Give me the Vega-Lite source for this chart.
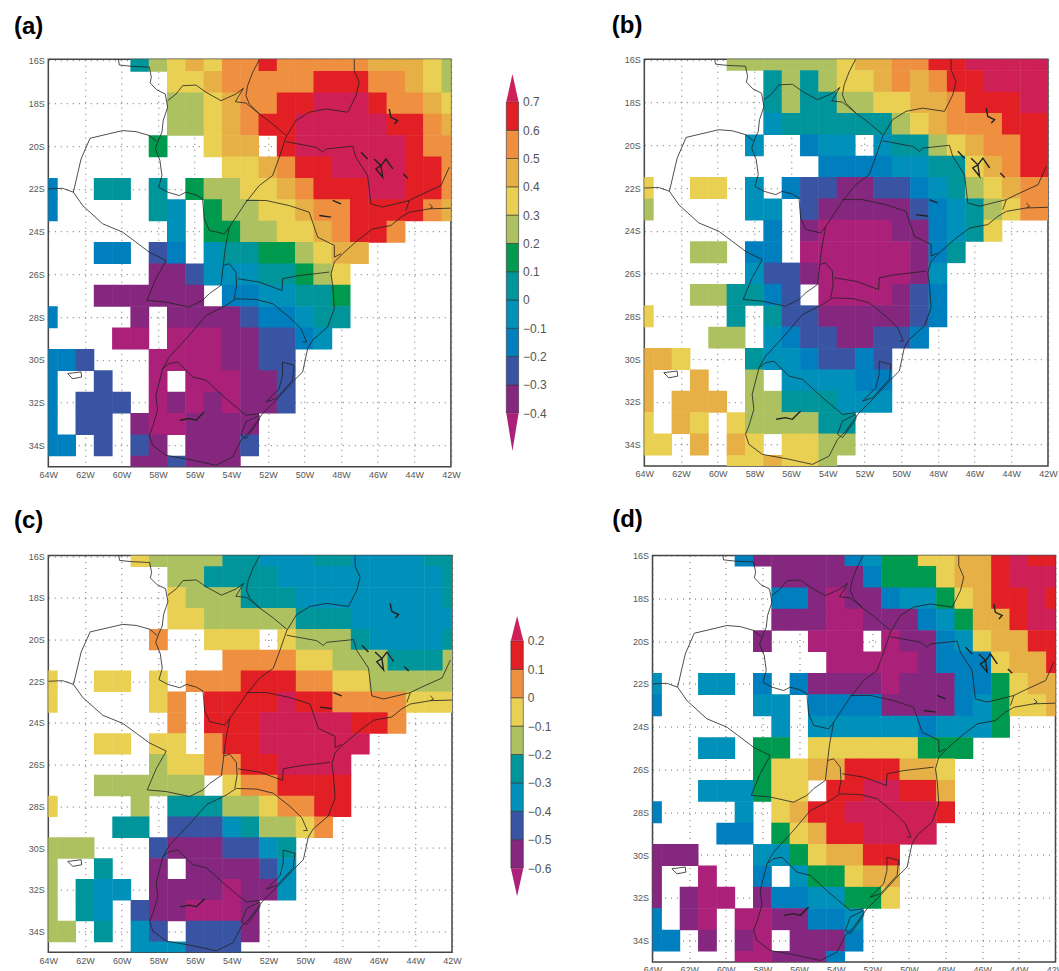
{"$schema":"https://vega.github.io/schema/vega-lite/v6.json","padding":{"left":12.3,"top":12.2,"right":0,"bottom":0},"background":"white","config":{"view":{"stroke":"#444","strokeWidth":1.5},"axis":{"labelFont":"Liberation Sans","labelColor":"#555","labelFontSize":9,"title":null,"domain":false,"ticks":false,"grid":true,"gridDash":[1,5],"gridColor":"#666","gridWidth":1,"labelPadding":4,"zindex":1,"labelOverlap":false,"labelFlush":false},"title":{"font":"Liberation Sans","fontSize":24,"fontWeight":"bold","color":"black","anchor":"start","frame":"group"}},
"datasets":{
"a":[{"x":59,"y":16,"v":0.05},{"x":58,"y":16,"v":0.25},{"x":57,"y":16,"v":0.35},{"x":56,"y":16,"v":0.45},{"x":55,"y":16,"v":0.35},{"x":54,"y":16,"v":0.55},{"x":53,"y":16,"v":0.55},{"x":52,"y":16,"v":0.65},{"x":51,"y":16,"v":0.55},{"x":50,"y":16,"v":0.55},{"x":49,"y":16,"v":0.55},{"x":48,"y":16,"v":0.55},{"x":47,"y":16,"v":0.55},{"x":46,"y":16,"v":0.45},{"x":45,"y":16,"v":0.45},{"x":44,"y":16,"v":0.45},{"x":43,"y":16,"v":0.35},{"x":42,"y":16,"v":0.25},
{"x":57,"y":17,"v":0.35},{"x":56,"y":17,"v":0.35},{"x":55,"y":17,"v":0.45},{"x":54,"y":17,"v":0.55},{"x":53,"y":17,"v":0.55},{"x":52,"y":17,"v":0.55},{"x":51,"y":17,"v":0.55},{"x":50,"y":17,"v":0.55},{"x":49,"y":17,"v":0.65},{"x":48,"y":17,"v":0.65},{"x":47,"y":17,"v":0.65},{"x":46,"y":17,"v":0.55},{"x":45,"y":17,"v":0.55},{"x":44,"y":17,"v":0.45},{"x":43,"y":17,"v":0.35},{"x":42,"y":17,"v":0.25},
{"x":57,"y":18,"v":0.25},{"x":56,"y":18,"v":0.25},{"x":55,"y":18,"v":0.35},{"x":54,"y":18,"v":0.45},{"x":53,"y":18,"v":0.55},{"x":52,"y":18,"v":0.55},{"x":51,"y":18,"v":0.65},{"x":50,"y":18,"v":0.65},{"x":49,"y":18,"v":0.75},{"x":48,"y":18,"v":0.75},{"x":47,"y":18,"v":0.75},{"x":46,"y":18,"v":0.65},{"x":45,"y":18,"v":0.55},{"x":44,"y":18,"v":0.55},{"x":43,"y":18,"v":0.45},{"x":42,"y":18,"v":0.35},
{"x":57,"y":19,"v":0.25},{"x":56,"y":19,"v":0.25},{"x":55,"y":19,"v":0.35},{"x":54,"y":19,"v":0.45},{"x":53,"y":19,"v":0.55},{"x":52,"y":19,"v":0.65},{"x":51,"y":19,"v":0.65},{"x":50,"y":19,"v":0.75},{"x":49,"y":19,"v":0.75},{"x":48,"y":19,"v":0.75},{"x":47,"y":19,"v":0.75},{"x":46,"y":19,"v":0.75},{"x":45,"y":19,"v":0.65},{"x":44,"y":19,"v":0.65},{"x":43,"y":19,"v":0.55},{"x":42,"y":19,"v":0.45},
{"x":58,"y":20,"v":0.15},{"x":55,"y":20,"v":0.35},{"x":54,"y":20,"v":0.45},{"x":53,"y":20,"v":0.45},{"x":51,"y":20,"v":0.65},{"x":50,"y":20,"v":0.75},{"x":49,"y":20,"v":0.75},{"x":48,"y":20,"v":0.75},{"x":47,"y":20,"v":0.75},{"x":46,"y":20,"v":0.75},{"x":45,"y":20,"v":0.75},{"x":44,"y":20,"v":0.65},{"x":43,"y":20,"v":0.55},{"x":42,"y":20,"v":0.55},
{"x":54,"y":21,"v":0.35},{"x":53,"y":21,"v":0.35},{"x":52,"y":21,"v":0.45},{"x":51,"y":21,"v":0.55},{"x":50,"y":21,"v":0.65},{"x":49,"y":21,"v":0.65},{"x":48,"y":21,"v":0.75},{"x":47,"y":21,"v":0.75},{"x":46,"y":21,"v":0.75},{"x":45,"y":21,"v":0.75},{"x":44,"y":21,"v":0.65},{"x":43,"y":21,"v":0.65},{"x":42,"y":21,"v":0.55},
{"x":64,"y":22,"v":-0.15},{"x":61,"y":22,"v":0.05},{"x":60,"y":22,"v":0.05},{"x":58,"y":22,"v":0.05},{"x":56,"y":22,"v":0.15},{"x":55,"y":22,"v":0.25},{"x":54,"y":22,"v":0.25},{"x":53,"y":22,"v":0.35},{"x":52,"y":22,"v":0.35},{"x":51,"y":22,"v":0.45},{"x":50,"y":22,"v":0.55},{"x":49,"y":22,"v":0.65},{"x":48,"y":22,"v":0.65},{"x":47,"y":22,"v":0.65},{"x":46,"y":22,"v":0.75},{"x":45,"y":22,"v":0.75},{"x":44,"y":22,"v":0.65},{"x":43,"y":22,"v":0.65},{"x":42,"y":22,"v":0.55},
{"x":64,"y":23,"v":-0.15},{"x":58,"y":23,"v":0.05},{"x":57,"y":23,"v":-0.05},{"x":55,"y":23,"v":0.15},{"x":54,"y":23,"v":0.25},{"x":53,"y":23,"v":0.25},{"x":52,"y":23,"v":0.35},{"x":51,"y":23,"v":0.35},{"x":50,"y":23,"v":0.45},{"x":49,"y":23,"v":0.55},{"x":48,"y":23,"v":0.55},{"x":47,"y":23,"v":0.65},{"x":46,"y":23,"v":0.65},{"x":45,"y":23,"v":0.65},{"x":44,"y":23,"v":0.65},{"x":43,"y":23,"v":0.55},{"x":42,"y":23,"v":0.45},
{"x":57,"y":24,"v":-0.05},{"x":55,"y":24,"v":0.15},{"x":54,"y":24,"v":0.15},{"x":53,"y":24,"v":0.25},{"x":52,"y":24,"v":0.25},{"x":51,"y":24,"v":0.35},{"x":50,"y":24,"v":0.35},{"x":49,"y":24,"v":0.45},{"x":48,"y":24,"v":0.55},{"x":47,"y":24,"v":0.65},{"x":46,"y":24,"v":0.65},{"x":45,"y":24,"v":0.55},
{"x":61,"y":25,"v":-0.15},{"x":60,"y":25,"v":-0.15},{"x":58,"y":25,"v":-0.25},{"x":57,"y":25,"v":-0.15},{"x":55,"y":25,"v":-0.05},{"x":54,"y":25,"v":0.05},{"x":53,"y":25,"v":0.05},{"x":52,"y":25,"v":0.15},{"x":51,"y":25,"v":0.15},{"x":50,"y":25,"v":0.25},{"x":49,"y":25,"v":0.35},{"x":48,"y":25,"v":0.45},{"x":47,"y":25,"v":0.45},
{"x":58,"y":26,"v":-0.35},{"x":57,"y":26,"v":-0.35},{"x":56,"y":26,"v":-0.25},{"x":55,"y":26,"v":-0.05},{"x":54,"y":26,"v":-0.05},{"x":53,"y":26,"v":-0.05},{"x":52,"y":26,"v":0.05},{"x":51,"y":26,"v":0.05},{"x":50,"y":26,"v":0.15},{"x":49,"y":26,"v":0.25},{"x":48,"y":26,"v":0.35},
{"x":61,"y":27,"v":-0.35},{"x":60,"y":27,"v":-0.35},{"x":59,"y":27,"v":-0.35},{"x":58,"y":27,"v":-0.35},{"x":57,"y":27,"v":-0.35},{"x":56,"y":27,"v":-0.35},{"x":54,"y":27,"v":-0.15},{"x":53,"y":27,"v":-0.15},{"x":52,"y":27,"v":-0.05},{"x":51,"y":27,"v":-0.05},{"x":50,"y":27,"v":0.05},{"x":49,"y":27,"v":0.05},{"x":48,"y":27,"v":0.15},
{"x":64,"y":28,"v":-0.15},{"x":59,"y":28,"v":-0.35},{"x":57,"y":28,"v":-0.35},{"x":56,"y":28,"v":-0.35},{"x":55,"y":28,"v":-0.35},{"x":54,"y":28,"v":-0.35},{"x":53,"y":28,"v":-0.25},{"x":52,"y":28,"v":-0.15},{"x":51,"y":28,"v":-0.15},{"x":50,"y":28,"v":-0.05},{"x":49,"y":28,"v":0.05},{"x":48,"y":28,"v":0.05},
{"x":60,"y":29,"v":-0.45},{"x":59,"y":29,"v":-0.45},{"x":57,"y":29,"v":-0.45},{"x":56,"y":29,"v":-0.45},{"x":55,"y":29,"v":-0.45},{"x":54,"y":29,"v":-0.35},{"x":53,"y":29,"v":-0.35},{"x":52,"y":29,"v":-0.25},{"x":51,"y":29,"v":-0.25},{"x":50,"y":29,"v":-0.15},{"x":49,"y":29,"v":-0.05},
{"x":64,"y":30,"v":-0.15},{"x":63,"y":30,"v":-0.15},{"x":62,"y":30,"v":-0.25},{"x":58,"y":30,"v":-0.45},{"x":57,"y":30,"v":-0.45},{"x":56,"y":30,"v":-0.45},{"x":55,"y":30,"v":-0.45},{"x":54,"y":30,"v":-0.35},{"x":53,"y":30,"v":-0.35},{"x":52,"y":30,"v":-0.25},{"x":51,"y":30,"v":-0.25},
{"x":64,"y":31,"v":-0.15},{"x":61,"y":31,"v":-0.25},{"x":58,"y":31,"v":-0.45},{"x":56,"y":31,"v":-0.45},{"x":55,"y":31,"v":-0.45},{"x":54,"y":31,"v":-0.45},{"x":53,"y":31,"v":-0.35},{"x":52,"y":31,"v":-0.35},{"x":51,"y":31,"v":-0.25},
{"x":64,"y":32,"v":-0.15},{"x":62,"y":32,"v":-0.25},{"x":61,"y":32,"v":-0.25},{"x":60,"y":32,"v":-0.25},{"x":58,"y":32,"v":-0.45},{"x":57,"y":32,"v":-0.35},{"x":56,"y":32,"v":-0.45},{"x":55,"y":32,"v":-0.35},{"x":54,"y":32,"v":-0.45},{"x":53,"y":32,"v":-0.35},{"x":52,"y":32,"v":-0.35},{"x":51,"y":32,"v":-0.25},
{"x":64,"y":33,"v":-0.15},{"x":62,"y":33,"v":-0.25},{"x":61,"y":33,"v":-0.25},{"x":59,"y":33,"v":-0.35},{"x":58,"y":33,"v":-0.45},{"x":57,"y":33,"v":-0.45},{"x":56,"y":33,"v":-0.35},{"x":55,"y":33,"v":-0.35},{"x":54,"y":33,"v":-0.35},{"x":53,"y":33,"v":-0.35},
{"x":64,"y":34,"v":-0.15},{"x":63,"y":34,"v":-0.15},{"x":61,"y":34,"v":-0.25},{"x":59,"y":34,"v":-0.25},{"x":58,"y":34,"v":-0.35},{"x":56,"y":34,"v":-0.35},{"x":55,"y":34,"v":-0.35},{"x":54,"y":34,"v":-0.35},{"x":53,"y":34,"v":-0.25},
{"x":59,"y":35,"v":-0.35},{"x":58,"y":35,"v":-0.35},{"x":57,"y":35,"v":-0.25},{"x":56,"y":35,"v":-0.35},{"x":55,"y":35,"v":-0.35},{"x":54,"y":35,"v":-0.35}],
"b":[{"x":59,"y":16,"v":0.25},{"x":58,"y":16,"v":0.25},{"x":57,"y":16,"v":0.25},{"x":56,"y":16,"v":0.25},{"x":55,"y":16,"v":0.25},{"x":54,"y":16,"v":0.25},{"x":53,"y":16,"v":0.35},{"x":52,"y":16,"v":0.45},{"x":51,"y":16,"v":0.45},{"x":50,"y":16,"v":0.55},{"x":49,"y":16,"v":0.55},{"x":48,"y":16,"v":0.65},{"x":47,"y":16,"v":0.65},{"x":46,"y":16,"v":0.75},{"x":45,"y":16,"v":0.75},{"x":44,"y":16,"v":0.75},{"x":43,"y":16,"v":0.75},{"x":42,"y":16,"v":0.75},
{"x":57,"y":17,"v":0.05},{"x":56,"y":17,"v":0.25},{"x":55,"y":17,"v":0.05},{"x":54,"y":17,"v":0.25},{"x":53,"y":17,"v":0.35},{"x":52,"y":17,"v":0.35},{"x":51,"y":17,"v":0.45},{"x":50,"y":17,"v":0.55},{"x":49,"y":17,"v":0.45},{"x":48,"y":17,"v":0.55},{"x":47,"y":17,"v":0.65},{"x":46,"y":17,"v":0.65},{"x":45,"y":17,"v":0.75},{"x":44,"y":17,"v":0.75},{"x":43,"y":17,"v":0.75},{"x":42,"y":17,"v":0.75},
{"x":57,"y":18,"v":0.05},{"x":56,"y":18,"v":0.25},{"x":55,"y":18,"v":0.05},{"x":54,"y":18,"v":0.05},{"x":53,"y":18,"v":0.25},{"x":52,"y":18,"v":0.25},{"x":51,"y":18,"v":0.35},{"x":50,"y":18,"v":0.35},{"x":49,"y":18,"v":0.45},{"x":48,"y":18,"v":0.45},{"x":47,"y":18,"v":0.55},{"x":46,"y":18,"v":0.65},{"x":45,"y":18,"v":0.65},{"x":44,"y":18,"v":0.65},{"x":43,"y":18,"v":0.75},{"x":42,"y":18,"v":0.75},
{"x":57,"y":19,"v":-0.05},{"x":56,"y":19,"v":0.05},{"x":55,"y":19,"v":0.05},{"x":54,"y":19,"v":0.05},{"x":53,"y":19,"v":0.05},{"x":52,"y":19,"v":0.05},{"x":51,"y":19,"v":0.05},{"x":50,"y":19,"v":0.25},{"x":49,"y":19,"v":0.35},{"x":48,"y":19,"v":0.45},{"x":47,"y":19,"v":0.55},{"x":46,"y":19,"v":0.55},{"x":45,"y":19,"v":0.55},{"x":44,"y":19,"v":0.65},{"x":43,"y":19,"v":0.65},{"x":42,"y":19,"v":0.65},
{"x":58,"y":20,"v":-0.05},{"x":55,"y":20,"v":-0.15},{"x":54,"y":20,"v":-0.05},{"x":53,"y":20,"v":-0.05},{"x":51,"y":20,"v":-0.05},{"x":50,"y":20,"v":0.05},{"x":49,"y":20,"v":0.05},{"x":48,"y":20,"v":0.25},{"x":47,"y":20,"v":0.35},{"x":46,"y":20,"v":0.45},{"x":45,"y":20,"v":0.55},{"x":44,"y":20,"v":0.55},{"x":43,"y":20,"v":0.65},{"x":42,"y":20,"v":0.65},
{"x":54,"y":21,"v":-0.15},{"x":53,"y":21,"v":-0.15},{"x":52,"y":21,"v":-0.15},{"x":51,"y":21,"v":-0.15},{"x":50,"y":21,"v":-0.05},{"x":49,"y":21,"v":-0.05},{"x":48,"y":21,"v":0.05},{"x":47,"y":21,"v":0.05},{"x":46,"y":21,"v":0.35},{"x":45,"y":21,"v":0.45},{"x":44,"y":21,"v":0.55},{"x":43,"y":21,"v":0.65},{"x":42,"y":21,"v":0.65},
{"x":64,"y":22,"v":0.35},{"x":61,"y":22,"v":0.35},{"x":60,"y":22,"v":0.35},{"x":58,"y":22,"v":-0.05},{"x":56,"y":22,"v":-0.15},{"x":55,"y":22,"v":-0.25},{"x":54,"y":22,"v":-0.25},{"x":53,"y":22,"v":-0.35},{"x":52,"y":22,"v":-0.35},{"x":51,"y":22,"v":-0.25},{"x":50,"y":22,"v":-0.25},{"x":49,"y":22,"v":-0.15},{"x":48,"y":22,"v":-0.05},{"x":47,"y":22,"v":0.05},{"x":46,"y":22,"v":0.25},{"x":45,"y":22,"v":0.35},{"x":44,"y":22,"v":0.45},{"x":43,"y":22,"v":0.55},{"x":42,"y":22,"v":0.55},
{"x":64,"y":23,"v":0.25},{"x":58,"y":23,"v":-0.05},{"x":57,"y":23,"v":-0.05},{"x":55,"y":23,"v":-0.25},{"x":54,"y":23,"v":-0.35},{"x":53,"y":23,"v":-0.35},{"x":52,"y":23,"v":-0.35},{"x":51,"y":23,"v":-0.35},{"x":50,"y":23,"v":-0.35},{"x":49,"y":23,"v":-0.25},{"x":48,"y":23,"v":-0.15},{"x":47,"y":23,"v":-0.05},{"x":46,"y":23,"v":0.05},{"x":45,"y":23,"v":0.25},{"x":44,"y":23,"v":0.35},{"x":43,"y":23,"v":0.55},{"x":42,"y":23,"v":0.55},
{"x":57,"y":24,"v":-0.15},{"x":55,"y":24,"v":-0.35},{"x":54,"y":24,"v":-0.45},{"x":53,"y":24,"v":-0.45},{"x":52,"y":24,"v":-0.45},{"x":51,"y":24,"v":-0.45},{"x":50,"y":24,"v":-0.35},{"x":49,"y":24,"v":-0.35},{"x":48,"y":24,"v":-0.15},{"x":47,"y":24,"v":-0.05},{"x":46,"y":24,"v":0.05},{"x":45,"y":24,"v":0.35},
{"x":61,"y":25,"v":0.25},{"x":60,"y":25,"v":0.25},{"x":58,"y":25,"v":-0.15},{"x":57,"y":25,"v":-0.15},{"x":55,"y":25,"v":-0.45},{"x":54,"y":25,"v":-0.45},{"x":53,"y":25,"v":-0.45},{"x":52,"y":25,"v":-0.45},{"x":51,"y":25,"v":-0.45},{"x":50,"y":25,"v":-0.45},{"x":49,"y":25,"v":-0.35},{"x":48,"y":25,"v":-0.15},{"x":47,"y":25,"v":0.05},
{"x":58,"y":26,"v":-0.05},{"x":57,"y":26,"v":-0.25},{"x":56,"y":26,"v":-0.25},{"x":55,"y":26,"v":-0.35},{"x":54,"y":26,"v":-0.45},{"x":53,"y":26,"v":-0.45},{"x":52,"y":26,"v":-0.45},{"x":51,"y":26,"v":-0.45},{"x":50,"y":26,"v":-0.45},{"x":49,"y":26,"v":-0.35},{"x":48,"y":26,"v":-0.05},
{"x":61,"y":27,"v":0.25},{"x":60,"y":27,"v":0.25},{"x":59,"y":27,"v":0.05},{"x":58,"y":27,"v":0.05},{"x":57,"y":27,"v":-0.15},{"x":56,"y":27,"v":-0.25},{"x":54,"y":27,"v":-0.45},{"x":53,"y":27,"v":-0.45},{"x":52,"y":27,"v":-0.45},{"x":51,"y":27,"v":-0.45},{"x":50,"y":27,"v":-0.35},{"x":49,"y":27,"v":-0.25},{"x":48,"y":27,"v":-0.15},
{"x":64,"y":28,"v":0.35},{"x":59,"y":28,"v":0.05},{"x":57,"y":28,"v":0.05},{"x":56,"y":28,"v":-0.25},{"x":55,"y":28,"v":-0.25},{"x":54,"y":28,"v":-0.35},{"x":53,"y":28,"v":-0.35},{"x":52,"y":28,"v":-0.35},{"x":51,"y":28,"v":-0.35},{"x":50,"y":28,"v":-0.35},{"x":49,"y":28,"v":-0.25},{"x":48,"y":28,"v":-0.15},
{"x":60,"y":29,"v":0.25},{"x":59,"y":29,"v":0.25},{"x":57,"y":29,"v":-0.05},{"x":56,"y":29,"v":-0.15},{"x":55,"y":29,"v":-0.25},{"x":54,"y":29,"v":-0.25},{"x":53,"y":29,"v":-0.35},{"x":52,"y":29,"v":-0.35},{"x":51,"y":29,"v":-0.25},{"x":50,"y":29,"v":-0.25},{"x":49,"y":29,"v":-0.15},
{"x":64,"y":30,"v":0.45},{"x":63,"y":30,"v":0.45},{"x":62,"y":30,"v":0.35},{"x":58,"y":30,"v":0.05},{"x":57,"y":30,"v":-0.05},{"x":56,"y":30,"v":-0.05},{"x":55,"y":30,"v":-0.15},{"x":54,"y":30,"v":-0.25},{"x":53,"y":30,"v":-0.25},{"x":52,"y":30,"v":-0.15},{"x":51,"y":30,"v":-0.25},
{"x":64,"y":31,"v":0.45},{"x":61,"y":31,"v":0.45},{"x":58,"y":31,"v":0.25},{"x":56,"y":31,"v":-0.05},{"x":55,"y":31,"v":-0.05},{"x":54,"y":31,"v":-0.05},{"x":53,"y":31,"v":-0.05},{"x":52,"y":31,"v":-0.15},{"x":51,"y":31,"v":-0.15},
{"x":64,"y":32,"v":0.45},{"x":62,"y":32,"v":0.45},{"x":61,"y":32,"v":0.45},{"x":60,"y":32,"v":0.45},{"x":58,"y":32,"v":0.25},{"x":57,"y":32,"v":0.25},{"x":56,"y":32,"v":0.05},{"x":55,"y":32,"v":0.05},{"x":54,"y":32,"v":0.05},{"x":53,"y":32,"v":-0.05},{"x":52,"y":32,"v":-0.05},{"x":51,"y":32,"v":-0.05},
{"x":64,"y":33,"v":0.35},{"x":62,"y":33,"v":0.45},{"x":61,"y":33,"v":0.35},{"x":59,"y":33,"v":0.35},{"x":58,"y":33,"v":0.25},{"x":57,"y":33,"v":0.25},{"x":56,"y":33,"v":0.25},{"x":55,"y":33,"v":0.25},{"x":54,"y":33,"v":0.05},{"x":53,"y":33,"v":0.05},
{"x":64,"y":34,"v":0.35},{"x":63,"y":34,"v":0.35},{"x":61,"y":34,"v":0.45},{"x":59,"y":34,"v":0.45},{"x":58,"y":34,"v":0.35},{"x":56,"y":34,"v":0.35},{"x":55,"y":34,"v":0.35},{"x":54,"y":34,"v":0.25},{"x":53,"y":34,"v":0.25},
{"x":59,"y":35,"v":0.35},{"x":58,"y":35,"v":0.35},{"x":57,"y":35,"v":0.45},{"x":56,"y":35,"v":0.35},{"x":55,"y":35,"v":0.35},{"x":54,"y":35,"v":0.25}],
"c":[{"x":59,"y":16,"v":-0.05},{"x":58,"y":16,"v":-0.15},{"x":57,"y":16,"v":-0.15},{"x":56,"y":16,"v":-0.15},{"x":55,"y":16,"v":-0.15},{"x":54,"y":16,"v":-0.25},{"x":53,"y":16,"v":-0.25},{"x":52,"y":16,"v":-0.35},{"x":51,"y":16,"v":-0.35},{"x":50,"y":16,"v":-0.35},{"x":49,"y":16,"v":-0.25},{"x":48,"y":16,"v":-0.25},{"x":47,"y":16,"v":-0.35},{"x":46,"y":16,"v":-0.35},{"x":45,"y":16,"v":-0.35},{"x":44,"y":16,"v":-0.35},{"x":43,"y":16,"v":-0.25},{"x":42,"y":16,"v":-0.25},
{"x":57,"y":17,"v":-0.15},{"x":56,"y":17,"v":-0.15},{"x":55,"y":17,"v":-0.25},{"x":54,"y":17,"v":-0.25},{"x":53,"y":17,"v":-0.25},{"x":52,"y":17,"v":-0.25},{"x":51,"y":17,"v":-0.35},{"x":50,"y":17,"v":-0.35},{"x":49,"y":17,"v":-0.35},{"x":48,"y":17,"v":-0.35},{"x":47,"y":17,"v":-0.35},{"x":46,"y":17,"v":-0.35},{"x":45,"y":17,"v":-0.35},{"x":44,"y":17,"v":-0.35},{"x":43,"y":17,"v":-0.35},{"x":42,"y":17,"v":-0.25},
{"x":57,"y":18,"v":-0.05},{"x":56,"y":18,"v":-0.15},{"x":55,"y":18,"v":-0.15},{"x":54,"y":18,"v":-0.15},{"x":53,"y":18,"v":-0.25},{"x":52,"y":18,"v":-0.25},{"x":51,"y":18,"v":-0.25},{"x":50,"y":18,"v":-0.35},{"x":49,"y":18,"v":-0.35},{"x":48,"y":18,"v":-0.35},{"x":47,"y":18,"v":-0.35},{"x":46,"y":18,"v":-0.35},{"x":45,"y":18,"v":-0.35},{"x":44,"y":18,"v":-0.35},{"x":43,"y":18,"v":-0.35},{"x":42,"y":18,"v":-0.25},
{"x":57,"y":19,"v":-0.05},{"x":56,"y":19,"v":-0.05},{"x":55,"y":19,"v":-0.15},{"x":54,"y":19,"v":-0.15},{"x":53,"y":19,"v":-0.15},{"x":52,"y":19,"v":-0.15},{"x":51,"y":19,"v":-0.15},{"x":50,"y":19,"v":-0.25},{"x":49,"y":19,"v":-0.25},{"x":48,"y":19,"v":-0.25},{"x":47,"y":19,"v":-0.35},{"x":46,"y":19,"v":-0.35},{"x":45,"y":19,"v":-0.35},{"x":44,"y":19,"v":-0.35},{"x":43,"y":19,"v":-0.35},{"x":42,"y":19,"v":-0.35},
{"x":58,"y":20,"v":0.05},{"x":55,"y":20,"v":-0.05},{"x":54,"y":20,"v":-0.05},{"x":53,"y":20,"v":-0.05},{"x":51,"y":20,"v":-0.05},{"x":50,"y":20,"v":-0.15},{"x":49,"y":20,"v":-0.15},{"x":48,"y":20,"v":-0.15},{"x":47,"y":20,"v":-0.25},{"x":46,"y":20,"v":-0.35},{"x":45,"y":20,"v":-0.35},{"x":44,"y":20,"v":-0.35},{"x":43,"y":20,"v":-0.35},{"x":42,"y":20,"v":-0.25},
{"x":54,"y":21,"v":0.05},{"x":53,"y":21,"v":0.05},{"x":52,"y":21,"v":0.05},{"x":51,"y":21,"v":0.05},{"x":50,"y":21,"v":-0.05},{"x":49,"y":21,"v":-0.05},{"x":48,"y":21,"v":-0.15},{"x":47,"y":21,"v":-0.15},{"x":46,"y":21,"v":-0.15},{"x":45,"y":21,"v":-0.25},{"x":44,"y":21,"v":-0.25},{"x":43,"y":21,"v":-0.25},{"x":42,"y":21,"v":-0.15},
{"x":64,"y":22,"v":-0.05},{"x":61,"y":22,"v":-0.05},{"x":60,"y":22,"v":-0.05},{"x":58,"y":22,"v":-0.05},{"x":56,"y":22,"v":0.05},{"x":55,"y":22,"v":0.05},{"x":54,"y":22,"v":0.05},{"x":53,"y":22,"v":0.15},{"x":52,"y":22,"v":0.15},{"x":51,"y":22,"v":0.15},{"x":50,"y":22,"v":0.05},{"x":49,"y":22,"v":0.05},{"x":48,"y":22,"v":-0.05},{"x":47,"y":22,"v":-0.05},{"x":46,"y":22,"v":-0.15},{"x":45,"y":22,"v":-0.15},{"x":44,"y":22,"v":-0.15},{"x":43,"y":22,"v":-0.15},{"x":42,"y":22,"v":-0.15},
{"x":64,"y":23,"v":-0.05},{"x":58,"y":23,"v":-0.05},{"x":57,"y":23,"v":0.05},{"x":55,"y":23,"v":0.15},{"x":54,"y":23,"v":0.15},{"x":53,"y":23,"v":0.15},{"x":52,"y":23,"v":0.15},{"x":51,"y":23,"v":0.25},{"x":50,"y":23,"v":0.15},{"x":49,"y":23,"v":0.15},{"x":48,"y":23,"v":0.05},{"x":47,"y":23,"v":0.05},{"x":46,"y":23,"v":0.05},{"x":45,"y":23,"v":0.05},{"x":44,"y":23,"v":-0.05},{"x":43,"y":23,"v":-0.05},{"x":42,"y":23,"v":-0.05},
{"x":57,"y":24,"v":0.05},{"x":55,"y":24,"v":0.15},{"x":54,"y":24,"v":0.15},{"x":53,"y":24,"v":0.15},{"x":52,"y":24,"v":0.25},{"x":51,"y":24,"v":0.25},{"x":50,"y":24,"v":0.25},{"x":49,"y":24,"v":0.25},{"x":48,"y":24,"v":0.25},{"x":47,"y":24,"v":0.15},{"x":46,"y":24,"v":0.15},{"x":45,"y":24,"v":0.05},
{"x":61,"y":25,"v":-0.05},{"x":60,"y":25,"v":-0.05},{"x":58,"y":25,"v":-0.05},{"x":57,"y":25,"v":-0.05},{"x":55,"y":25,"v":0.05},{"x":54,"y":25,"v":0.15},{"x":53,"y":25,"v":0.15},{"x":52,"y":25,"v":0.25},{"x":51,"y":25,"v":0.25},{"x":50,"y":25,"v":0.25},{"x":49,"y":25,"v":0.25},{"x":48,"y":25,"v":0.25},{"x":47,"y":25,"v":0.25},
{"x":58,"y":26,"v":-0.15},{"x":57,"y":26,"v":-0.05},{"x":56,"y":26,"v":-0.05},{"x":55,"y":26,"v":0.05},{"x":54,"y":26,"v":0.05},{"x":53,"y":26,"v":0.15},{"x":52,"y":26,"v":0.15},{"x":51,"y":26,"v":0.25},{"x":50,"y":26,"v":0.25},{"x":49,"y":26,"v":0.25},{"x":48,"y":26,"v":0.25},
{"x":61,"y":27,"v":-0.15},{"x":60,"y":27,"v":-0.15},{"x":59,"y":27,"v":-0.15},{"x":58,"y":27,"v":-0.15},{"x":57,"y":27,"v":-0.15},{"x":56,"y":27,"v":-0.15},{"x":54,"y":27,"v":-0.05},{"x":53,"y":27,"v":0.05},{"x":52,"y":27,"v":0.05},{"x":51,"y":27,"v":0.15},{"x":50,"y":27,"v":0.15},{"x":49,"y":27,"v":0.15},{"x":48,"y":27,"v":0.15},
{"x":64,"y":28,"v":-0.05},{"x":59,"y":28,"v":-0.15},{"x":57,"y":28,"v":-0.25},{"x":56,"y":28,"v":-0.25},{"x":55,"y":28,"v":-0.25},{"x":54,"y":28,"v":-0.15},{"x":53,"y":28,"v":-0.15},{"x":52,"y":28,"v":-0.05},{"x":51,"y":28,"v":0.05},{"x":50,"y":28,"v":0.05},{"x":49,"y":28,"v":0.15},{"x":48,"y":28,"v":0.15},
{"x":60,"y":29,"v":-0.25},{"x":59,"y":29,"v":-0.25},{"x":57,"y":29,"v":-0.45},{"x":56,"y":29,"v":-0.45},{"x":55,"y":29,"v":-0.45},{"x":54,"y":29,"v":-0.35},{"x":53,"y":29,"v":-0.25},{"x":52,"y":29,"v":-0.15},{"x":51,"y":29,"v":-0.15},{"x":50,"y":29,"v":-0.05},{"x":49,"y":29,"v":0.05},
{"x":64,"y":30,"v":-0.15},{"x":63,"y":30,"v":-0.15},{"x":62,"y":30,"v":-0.15},{"x":58,"y":30,"v":-0.45},{"x":57,"y":30,"v":-0.55},{"x":56,"y":30,"v":-0.55},{"x":55,"y":30,"v":-0.55},{"x":54,"y":30,"v":-0.45},{"x":53,"y":30,"v":-0.45},{"x":52,"y":30,"v":-0.35},{"x":51,"y":30,"v":-0.25},
{"x":64,"y":31,"v":-0.15},{"x":61,"y":31,"v":-0.25},{"x":58,"y":31,"v":-0.55},{"x":56,"y":31,"v":-0.55},{"x":55,"y":31,"v":-0.55},{"x":54,"y":31,"v":-0.55},{"x":53,"y":31,"v":-0.55},{"x":52,"y":31,"v":-0.45},{"x":51,"y":31,"v":-0.35},
{"x":64,"y":32,"v":-0.15},{"x":62,"y":32,"v":-0.25},{"x":61,"y":32,"v":-0.35},{"x":60,"y":32,"v":-0.35},{"x":58,"y":32,"v":-0.55},{"x":57,"y":32,"v":-0.55},{"x":56,"y":32,"v":-0.55},{"x":55,"y":32,"v":-0.55},{"x":54,"y":32,"v":-0.65},{"x":53,"y":32,"v":-0.55},{"x":52,"y":32,"v":-0.55},{"x":51,"y":32,"v":-0.35},
{"x":64,"y":33,"v":-0.15},{"x":62,"y":33,"v":-0.25},{"x":61,"y":33,"v":-0.35},{"x":59,"y":33,"v":-0.45},{"x":58,"y":33,"v":-0.55},{"x":57,"y":33,"v":-0.55},{"x":56,"y":33,"v":-0.65},{"x":55,"y":33,"v":-0.65},{"x":54,"y":33,"v":-0.65},{"x":53,"y":33,"v":-0.55},
{"x":64,"y":34,"v":-0.15},{"x":63,"y":34,"v":-0.15},{"x":61,"y":34,"v":-0.25},{"x":59,"y":34,"v":-0.35},{"x":58,"y":34,"v":-0.45},{"x":56,"y":34,"v":-0.45},{"x":55,"y":34,"v":-0.45},{"x":54,"y":34,"v":-0.45},{"x":53,"y":34,"v":-0.55},
{"x":59,"y":35,"v":-0.35},{"x":58,"y":35,"v":-0.35},{"x":57,"y":35,"v":-0.35},{"x":56,"y":35,"v":-0.45},{"x":55,"y":35,"v":-0.45},{"x":54,"y":35,"v":-0.45}],
"d":[{"x":59,"y":16,"v":-0.15},{"x":58,"y":16,"v":-0.35},{"x":57,"y":16,"v":-0.35},{"x":56,"y":16,"v":-0.35},{"x":55,"y":16,"v":-0.35},{"x":54,"y":16,"v":-0.35},{"x":53,"y":16,"v":-0.15},{"x":52,"y":16,"v":-0.05},{"x":51,"y":16,"v":0.15},{"x":50,"y":16,"v":0.15},{"x":49,"y":16,"v":0.35},{"x":48,"y":16,"v":0.35},{"x":47,"y":16,"v":0.45},{"x":46,"y":16,"v":0.45},{"x":45,"y":16,"v":0.65},{"x":44,"y":16,"v":0.75},{"x":43,"y":16,"v":0.65},{"x":42,"y":16,"v":0.65},
{"x":57,"y":17,"v":-0.35},{"x":56,"y":17,"v":-0.35},{"x":55,"y":17,"v":-0.35},{"x":54,"y":17,"v":-0.35},{"x":53,"y":17,"v":-0.35},{"x":52,"y":17,"v":-0.15},{"x":51,"y":17,"v":0.15},{"x":50,"y":17,"v":0.15},{"x":49,"y":17,"v":0.15},{"x":48,"y":17,"v":0.35},{"x":47,"y":17,"v":0.45},{"x":46,"y":17,"v":0.45},{"x":45,"y":17,"v":0.65},{"x":44,"y":17,"v":0.75},{"x":43,"y":17,"v":0.75},{"x":42,"y":17,"v":0.75},
{"x":57,"y":18,"v":-0.15},{"x":56,"y":18,"v":-0.15},{"x":55,"y":18,"v":-0.35},{"x":54,"y":18,"v":-0.45},{"x":53,"y":18,"v":-0.35},{"x":52,"y":18,"v":-0.35},{"x":51,"y":18,"v":-0.15},{"x":50,"y":18,"v":-0.05},{"x":49,"y":18,"v":-0.05},{"x":48,"y":18,"v":0.15},{"x":47,"y":18,"v":0.35},{"x":46,"y":18,"v":0.45},{"x":45,"y":18,"v":0.65},{"x":44,"y":18,"v":0.65},{"x":43,"y":18,"v":0.75},{"x":42,"y":18,"v":0.65},
{"x":57,"y":19,"v":-0.35},{"x":56,"y":19,"v":-0.35},{"x":55,"y":19,"v":-0.35},{"x":54,"y":19,"v":-0.45},{"x":53,"y":19,"v":-0.45},{"x":52,"y":19,"v":-0.35},{"x":51,"y":19,"v":-0.35},{"x":50,"y":19,"v":-0.35},{"x":49,"y":19,"v":-0.15},{"x":48,"y":19,"v":-0.05},{"x":47,"y":19,"v":0.15},{"x":46,"y":19,"v":0.45},{"x":45,"y":19,"v":0.45},{"x":44,"y":19,"v":0.65},{"x":43,"y":19,"v":0.75},{"x":42,"y":19,"v":0.75},
{"x":58,"y":20,"v":-0.35},{"x":55,"y":20,"v":-0.45},{"x":54,"y":20,"v":-0.45},{"x":53,"y":20,"v":-0.45},{"x":51,"y":20,"v":-0.45},{"x":50,"y":20,"v":-0.35},{"x":49,"y":20,"v":-0.35},{"x":48,"y":20,"v":-0.15},{"x":47,"y":20,"v":-0.05},{"x":46,"y":20,"v":0.35},{"x":45,"y":20,"v":0.45},{"x":44,"y":20,"v":0.45},{"x":43,"y":20,"v":0.65},{"x":42,"y":20,"v":0.65},
{"x":54,"y":21,"v":-0.45},{"x":53,"y":21,"v":-0.45},{"x":52,"y":21,"v":-0.45},{"x":51,"y":21,"v":-0.45},{"x":50,"y":21,"v":-0.45},{"x":49,"y":21,"v":-0.35},{"x":48,"y":21,"v":-0.15},{"x":47,"y":21,"v":-0.15},{"x":46,"y":21,"v":-0.15},{"x":45,"y":21,"v":0.35},{"x":44,"y":21,"v":0.45},{"x":43,"y":21,"v":0.45},{"x":42,"y":21,"v":0.65},
{"x":64,"y":22,"v":-0.05},{"x":61,"y":22,"v":-0.05},{"x":60,"y":22,"v":-0.05},{"x":58,"y":22,"v":-0.15},{"x":56,"y":22,"v":-0.15},{"x":55,"y":22,"v":-0.35},{"x":54,"y":22,"v":-0.35},{"x":53,"y":22,"v":-0.35},{"x":52,"y":22,"v":-0.35},{"x":51,"y":22,"v":-0.45},{"x":50,"y":22,"v":-0.35},{"x":49,"y":22,"v":-0.35},{"x":48,"y":22,"v":-0.35},{"x":47,"y":22,"v":-0.15},{"x":46,"y":22,"v":-0.15},{"x":45,"y":22,"v":0.15},{"x":44,"y":22,"v":0.35},{"x":43,"y":22,"v":0.45},{"x":42,"y":22,"v":0.45},
{"x":64,"y":23,"v":-0.15},{"x":58,"y":23,"v":-0.05},{"x":57,"y":23,"v":-0.05},{"x":55,"y":23,"v":-0.15},{"x":54,"y":23,"v":-0.15},{"x":53,"y":23,"v":-0.15},{"x":52,"y":23,"v":-0.15},{"x":51,"y":23,"v":-0.35},{"x":50,"y":23,"v":-0.35},{"x":49,"y":23,"v":-0.35},{"x":48,"y":23,"v":-0.35},{"x":47,"y":23,"v":-0.15},{"x":46,"y":23,"v":-0.05},{"x":45,"y":23,"v":0.15},{"x":44,"y":23,"v":0.35},{"x":43,"y":23,"v":0.35},{"x":42,"y":23,"v":0.45},
{"x":57,"y":24,"v":-0.05},{"x":55,"y":24,"v":-0.05},{"x":54,"y":24,"v":-0.05},{"x":53,"y":24,"v":-0.05},{"x":52,"y":24,"v":-0.05},{"x":51,"y":24,"v":-0.05},{"x":50,"y":24,"v":-0.05},{"x":49,"y":24,"v":-0.15},{"x":48,"y":24,"v":-0.05},{"x":47,"y":24,"v":-0.05},{"x":46,"y":24,"v":-0.05},{"x":45,"y":24,"v":0.15},
{"x":61,"y":25,"v":-0.05},{"x":60,"y":25,"v":-0.05},{"x":58,"y":25,"v":0.15},{"x":57,"y":25,"v":0.15},{"x":55,"y":25,"v":0.35},{"x":54,"y":25,"v":0.35},{"x":53,"y":25,"v":0.35},{"x":52,"y":25,"v":0.35},{"x":51,"y":25,"v":0.35},{"x":50,"y":25,"v":0.35},{"x":49,"y":25,"v":0.15},{"x":48,"y":25,"v":0.15},{"x":47,"y":25,"v":0.15},
{"x":58,"y":26,"v":0.15},{"x":57,"y":26,"v":0.35},{"x":56,"y":26,"v":0.35},{"x":55,"y":26,"v":0.45},{"x":54,"y":26,"v":0.45},{"x":53,"y":26,"v":0.65},{"x":52,"y":26,"v":0.65},{"x":51,"y":26,"v":0.65},{"x":50,"y":26,"v":0.45},{"x":49,"y":26,"v":0.45},{"x":48,"y":26,"v":0.35},
{"x":61,"y":27,"v":-0.05},{"x":60,"y":27,"v":-0.05},{"x":59,"y":27,"v":-0.05},{"x":58,"y":27,"v":0.15},{"x":57,"y":27,"v":0.35},{"x":56,"y":27,"v":0.35},{"x":54,"y":27,"v":0.65},{"x":53,"y":27,"v":0.65},{"x":52,"y":27,"v":0.75},{"x":51,"y":27,"v":0.75},{"x":50,"y":27,"v":0.65},{"x":49,"y":27,"v":0.65},{"x":48,"y":27,"v":0.45},
{"x":64,"y":28,"v":-0.15},{"x":59,"y":28,"v":-0.05},{"x":57,"y":28,"v":0.35},{"x":56,"y":28,"v":0.45},{"x":55,"y":28,"v":0.65},{"x":54,"y":28,"v":0.65},{"x":53,"y":28,"v":0.75},{"x":52,"y":28,"v":0.75},{"x":51,"y":28,"v":0.75},{"x":50,"y":28,"v":0.75},{"x":49,"y":28,"v":0.75},{"x":48,"y":28,"v":0.65},
{"x":60,"y":29,"v":-0.15},{"x":59,"y":29,"v":-0.15},{"x":57,"y":29,"v":0.15},{"x":56,"y":29,"v":0.35},{"x":55,"y":29,"v":0.45},{"x":54,"y":29,"v":0.65},{"x":53,"y":29,"v":0.65},{"x":52,"y":29,"v":0.75},{"x":51,"y":29,"v":0.75},{"x":50,"y":29,"v":0.75},{"x":49,"y":29,"v":0.75},
{"x":64,"y":30,"v":-0.35},{"x":63,"y":30,"v":-0.35},{"x":62,"y":30,"v":-0.35},{"x":58,"y":30,"v":-0.05},{"x":57,"y":30,"v":-0.05},{"x":56,"y":30,"v":0.15},{"x":55,"y":30,"v":0.35},{"x":54,"y":30,"v":0.45},{"x":53,"y":30,"v":0.45},{"x":52,"y":30,"v":0.65},{"x":51,"y":30,"v":0.65},
{"x":64,"y":31,"v":-0.35},{"x":61,"y":31,"v":-0.45},{"x":58,"y":31,"v":-0.15},{"x":56,"y":31,"v":-0.05},{"x":55,"y":31,"v":0.15},{"x":54,"y":31,"v":0.15},{"x":53,"y":31,"v":0.35},{"x":52,"y":31,"v":0.45},{"x":51,"y":31,"v":0.45},
{"x":64,"y":32,"v":-0.35},{"x":62,"y":32,"v":-0.35},{"x":61,"y":32,"v":-0.45},{"x":60,"y":32,"v":-0.45},{"x":58,"y":32,"v":-0.35},{"x":57,"y":32,"v":-0.15},{"x":56,"y":32,"v":-0.15},{"x":55,"y":32,"v":-0.05},{"x":54,"y":32,"v":-0.05},{"x":53,"y":32,"v":0.15},{"x":52,"y":32,"v":0.15},{"x":51,"y":32,"v":0.35},
{"x":64,"y":33,"v":-0.15},{"x":62,"y":33,"v":-0.35},{"x":61,"y":33,"v":-0.45},{"x":59,"y":33,"v":-0.45},{"x":58,"y":33,"v":-0.45},{"x":57,"y":33,"v":-0.35},{"x":56,"y":33,"v":-0.35},{"x":55,"y":33,"v":-0.15},{"x":54,"y":33,"v":-0.15},{"x":53,"y":33,"v":-0.05},
{"x":64,"y":34,"v":-0.15},{"x":63,"y":34,"v":-0.15},{"x":61,"y":34,"v":-0.35},{"x":59,"y":34,"v":-0.35},{"x":58,"y":34,"v":-0.45},{"x":56,"y":34,"v":-0.35},{"x":55,"y":34,"v":-0.35},{"x":54,"y":34,"v":-0.35},{"x":53,"y":34,"v":-0.15},
{"x":59,"y":35,"v":-0.45},{"x":58,"y":35,"v":-0.45},{"x":57,"y":35,"v":-0.35},{"x":56,"y":35,"v":-0.35},{"x":55,"y":35,"v":-0.35},{"x":54,"y":35,"v":-0.15}],
"m":[{"s":1,"x":60.17,"y":15.92},{"s":1,"x":60.12,"y":16.2},{"s":1,"x":59.48,"y":16.26},{"s":1,"x":58.48,"y":16.3},{"s":1,"x":58.37,"y":16.78},{"s":1,"x":58.44,"y":17.04},{"s":1,"x":58.08,"y":17.36},{"s":1,"x":57.61,"y":17.56},{"s":1,"x":57.48,"y":18.18},{"s":1,"x":57.72,"y":18.8},{"s":1,"x":57.79,"y":19.35},{"s":1,"x":57.97,"y":19.69},{"s":1,"x":58.15,"y":20.13},{"s":1,"x":57.9,"y":20.67},{"s":1,"x":57.79,"y":21.37},{"s":1,"x":57.97,"y":21.92},{"s":1,"x":57.48,"y":22.15},{"s":1,"x":56.84,"y":22.31},{"s":1,"x":56.48,"y":22.15},{"s":1,"x":55.93,"y":22.28},{"s":1,"x":55.57,"y":22.46},{"s":1,"x":55.48,"y":23.4},{"s":1,"x":55.2,"y":23.94},{"s":1,"x":54.38,"y":24.1},{"s":1,"x":54.11,"y":23.79},
{"s":2,"x":54.11,"y":23.79},{"s":2,"x":54.33,"y":24.8},{"s":2,"x":54.44,"y":25.58},{"s":2,"x":54.56,"y":26.51},{"s":2,"x":55.2,"y":26.9},{"s":2,"x":55.57,"y":27.21},{"s":2,"x":56.3,"y":27.53},{"s":2,"x":57.57,"y":27.29},{"s":2,"x":58.61,"y":27.21},{"s":2,"x":58.12,"y":26.2},{"s":2,"x":57.57,"y":25.35},{"s":2,"x":58.48,"y":24.96},{"s":2,"x":59.21,"y":24.49},{"s":2,"x":59.94,"y":24.02},{"s":2,"x":61.03,"y":23.63},{"s":2,"x":62.12,"y":22.78},{"s":2,"x":62.63,"y":22.15},{"s":2,"x":63.22,"y":21.97},{"s":2,"x":64,"y":22},
{"s":3,"x":62.63,"y":22.15},{"s":3,"x":62.21,"y":20.6},{"s":3,"x":61.72,"y":19.63},{"s":3,"x":59.94,"y":19.27},{"s":3,"x":59.21,"y":19.32},{"s":3,"x":58.48,"y":19.5},{"s":3,"x":58.08,"y":19.79},
{"s":4,"x":54.11,"y":23.79},{"s":4,"x":53.2,"y":22.62},{"s":4,"x":52.47,"y":21.84},{"s":4,"x":51.74,"y":21.37},{"s":4,"x":51.38,"y":20.52},{"s":4,"x":51.01,"y":19.58},{"s":4,"x":50.47,"y":18.8},{"s":4,"x":49.74,"y":18.41},{"s":4,"x":48.83,"y":18.26},{"s":4,"x":47.64,"y":18.41},{"s":4,"x":47.19,"y":17.64},{"s":4,"x":47.01,"y":17.01},{"s":4,"x":47.28,"y":16.47},{"s":4,"x":47.28,"y":15.92},
{"s":5,"x":57.48,"y":17.87},{"s":5,"x":57.02,"y":17.56},{"s":5,"x":56.66,"y":17.17},{"s":5,"x":55.93,"y":17.14},{"s":5,"x":55.38,"y":17.48},{"s":5,"x":54.56,"y":17.87},{"s":5,"x":53.75,"y":17.56},{"s":5,"x":53.34,"y":17.29},{"s":5,"x":53.78,"y":17.92},{"s":5,"x":53.2,"y":17.98},{"s":5,"x":52.47,"y":18.49},{"s":5,"x":51.74,"y":18.96},{"s":5,"x":51.01,"y":19.5},
{"s":6,"x":52.47,"y":15.95},{"s":6,"x":52.83,"y":16.55},{"s":6,"x":53.11,"y":17.17},{"s":6,"x":53.2,"y":17.64},{"s":6,"x":53.02,"y":18.02},{"s":6,"x":52.47,"y":18.49},
{"s":7,"x":51.01,"y":19.79},{"s":7,"x":49.37,"y":20.05},{"s":7,"x":49.01,"y":20.28},{"s":7,"x":48.83,"y":20.13},{"s":7,"x":47.37,"y":20},{"s":7,"x":47.19,"y":20.52},{"s":7,"x":46.55,"y":21.37},{"s":7,"x":46.37,"y":22.7},{"s":7,"x":45.73,"y":22.85},{"s":7,"x":44.27,"y":22.54},
{"s":8,"x":53.2,"y":22.54},{"s":8,"x":52.11,"y":22.54},{"s":8,"x":50.83,"y":22.78},{"s":8,"x":49.74,"y":23.09},{"s":8,"x":49.28,"y":24.26},{"s":8,"x":48.37,"y":24.64},{"s":8,"x":48.37,"y":25.19},{"s":8,"x":48.01,"y":25.03},
{"s":9,"x":42.09,"y":20.98},{"s":9,"x":42.54,"y":21.84},{"s":9,"x":43.73,"y":22.31},{"s":9,"x":44.27,"y":22.54},{"s":9,"x":44.46,"y":23.01},
{"s":10,"x":42,"y":22.9},{"s":10,"x":43.18,"y":22.93},{"s":10,"x":44.27,"y":23.09},{"s":10,"x":44.73,"y":23.32},{"s":10,"x":45.28,"y":23.71},{"s":10,"x":46.28,"y":23.87},{"s":10,"x":47.1,"y":24.41},{"s":10,"x":47.92,"y":25.03},{"s":10,"x":48.37,"y":25.42},{"s":10,"x":48.55,"y":25.97},{"s":10,"x":48.46,"y":26.51},{"s":10,"x":48.37,"y":27.6},{"s":10,"x":48.74,"y":28.46},{"s":10,"x":49.56,"y":29.08},{"s":10,"x":49.83,"y":29.47},{"s":10,"x":50.1,"y":30.56},{"s":10,"x":50.65,"y":31.03},{"s":10,"x":51.56,"y":31.89},{"s":10,"x":52.29,"y":32.51},{"s":10,"x":53.02,"y":33.37},{"s":10,"x":53.47,"y":33.76},{"s":10,"x":53.93,"y":34.54},{"s":10,"x":54.84,"y":34.93},{"s":10,"x":56.11,"y":34.69},{"s":10,"x":57.57,"y":34.46},{"s":10,"x":58.3,"y":33.99},{"s":10,"x":58.48,"y":33.52},{"s":10,"x":58.3,"y":33.13},{"s":10,"x":58.03,"y":32.36},{"s":10,"x":58.12,"y":31.65},{"s":10,"x":57.75,"y":30.41},{"s":10,"x":57.39,"y":29.86},{"s":10,"x":56.3,"y":28.85},{"s":10,"x":55.38,"y":27.92},{"s":10,"x":54.29,"y":27.45},{"s":10,"x":53.75,"y":27.14},{"s":10,"x":52.65,"y":27.17},{"s":10,"x":51.74,"y":27.37},{"s":10,"x":50.83,"y":28},{"s":10,"x":50.19,"y":28.54},{"s":10,"x":49.88,"y":29.16},{"s":10,"x":50.1,"y":29.16},
{"s":11,"x":57.75,"y":30.41},{"s":11,"x":57.39,"y":30.17},{"s":11,"x":56.93,"y":30.1},{"s":11,"x":56.11,"y":30.8},{"s":11,"x":55.38,"y":30.95},{"s":11,"x":54.29,"y":31.81},{"s":11,"x":53.2,"y":32.59},{"s":11,"x":52.47,"y":32.51},
{"s":12,"x":53.65,"y":26.2},{"s":12,"x":52.47,"y":26.36},{"s":12,"x":51.23,"y":26.75},{"s":12,"x":51.2,"y":26.2},{"s":12,"x":50.28,"y":26.05},{"s":12,"x":48.65,"y":25.89},
{"s":13,"x":54.44,"y":25.58},{"s":13,"x":54.11,"y":25.5},{"s":13,"x":53.75,"y":25.89},{"s":13,"x":53.71,"y":26.51},{"s":13,"x":53.84,"y":27.14},
{"s":20,"x":45.37,"y":18.26},{"s":20,"x":45.28,"y":18.65},{"s":20,"x":44.91,"y":18.8},{"s":20,"x":45.09,"y":18.96},
{"s":21,"x":46.19,"y":20.6},{"s":21,"x":45.82,"y":20.91},{"s":21,"x":46.1,"y":21.06},{"s":21,"x":45.73,"y":21.45},{"s":21,"x":45.82,"y":20.91},{"s":21,"x":45.55,"y":20.6},{"s":21,"x":45.18,"y":21.06},
{"s":22,"x":46.91,"y":20.28},{"s":22,"x":46.55,"y":20.6},
{"s":23,"x":44.6,"y":21.3},{"s":23,"x":44.36,"y":21.5},
{"s":24,"x":48.46,"y":22.54},{"s":24,"x":48.01,"y":22.7},
{"s":25,"x":49.19,"y":23.24},{"s":25,"x":48.55,"y":23.32},
{"s":26,"x":56.81,"y":32.82},{"s":26,"x":56.3,"y":32.74},{"s":26,"x":55.93,"y":32.82},{"s":26,"x":55.48,"y":32.43},
{"s":14,"x":62.94,"y":30.64},{"s":14,"x":62.21,"y":30.56},{"s":14,"x":62.18,"y":30.8},{"s":14,"x":62.67,"y":30.88},{"s":14,"x":62.94,"y":30.64},
{"s":15,"x":51.2,"y":30.1},{"s":15,"x":50.56,"y":30.25},{"s":15,"x":50.65,"y":30.95},{"s":15,"x":51.56,"y":31.81},{"s":15,"x":52.11,"y":31.97},{"s":15,"x":51.38,"y":31.34},{"s":15,"x":51.2,"y":30.72},{"s":15,"x":51.2,"y":30.1},
{"s":16,"x":52.47,"y":32.59},{"s":16,"x":53.2,"y":32.9},{"s":16,"x":53.47,"y":33.52},{"s":16,"x":53.2,"y":33.68},{"s":16,"x":52.47,"y":32.82},{"s":16,"x":52.47,"y":32.59},
{"s":17,"x":43.18,"y":22.7},{"s":17,"x":43,"y":22.85},{"s":17,"x":43.18,"y":22.93}],
"ka":[{"m":-0.35,"lo":-0.4,"hi":-0.3},{"m":-0.25,"lo":-0.3,"hi":-0.2},{"m":-0.15,"lo":-0.2,"hi":-0.1},{"m":-0.05,"lo":-0.1,"hi":0},{"m":0.05,"lo":0,"hi":0.1},{"m":0.15,"lo":0.1,"hi":0.2},{"m":0.25,"lo":0.2,"hi":0.3},{"m":0.35,"lo":0.3,"hi":0.4},{"m":0.45,"lo":0.4,"hi":0.5},{"m":0.55,"lo":0.5,"hi":0.6},{"m":0.65,"lo":0.6,"hi":0.7}],
"ta":[{"t":0.7495},{"t":-0.467}],
"kc":[{"m":-0.55,"lo":-0.6,"hi":-0.5},{"m":-0.45,"lo":-0.5,"hi":-0.4},{"m":-0.35,"lo":-0.4,"hi":-0.3},{"m":-0.25,"lo":-0.3,"hi":-0.2},{"m":-0.15,"lo":-0.2,"hi":-0.1},{"m":-0.05,"lo":-0.1,"hi":0},{"m":0.05,"lo":0,"hi":0.1},{"m":0.15,"lo":0.1,"hi":0.2}],
"tc":[{"t":0.244},{"t":-0.65}]},
"resolve":{"scale":{"color":"independent"}},"align":"none",
"vconcat":[
{"resolve":{"scale":{"color":"independent"}},"align":"none","hconcat":[
{"width":402.6,"height":407.6,"title":{"text":"(a)","dx":-34.3,"offset":17.3},"layer":[
{"data":{"name":"a"},"mark":{"type":"rect","width":18.8,"height":21.9,"clip":true},"encoding":{"x":{"field":"x","type":"quantitative","scale":{"domain":[64,42],"nice":false},"axis":{"values":[64,62,60,58,56,54,52,50,48,46,44,42],"tickCount":12,"labelExpr":"datum.value+'W'","labelOverlap":false}},"y":{"field":"y","type":"quantitative","scale":{"domain":[35,15.93],"nice":false},"axis":{"values":[16,18,20,22,24,26,28,30,32,34],"tickCount":10,"labelExpr":"datum.value+'S'"}},"color":{"field":"v","type":"quantitative","legend":null,"scale":{"type":"threshold","domain":[-0.4,-0.3,-0.2,-0.1,0,0.1,0.2,0.3,0.4,0.5,0.6,0.7],"range":["#ab2079","#86277f","#3a54a4","#007fbf","#0091bb","#00959b","#009a4e","#adc161","#e9d053","#e6b047","#ee9040","#e31f26","#cf1f57"]}}}},
{"data":{"name":"m"},"transform":[{"window":[{"op":"row_number","as":"i"}]}],"mark":{"type":"line","color":"#222","clip":true},"encoding":{"x":{"field":"x","type":"quantitative"},"y":{"field":"y","type":"quantitative"},"detail":{"field":"s"},"order":{"field":"i","type":"quantitative"},"strokeWidth":{"condition":{"test":"datum.s>=20","value":1.4},"value":0.8}}}]},
{"width":60,"height":407.7,"view":{"stroke":null},"layer":[
{"data":{"name":"ka"},"mark":{"type":"rect","stroke":"#333","strokeWidth":0.6},"encoding":{"x":{"datum":0,"type":"quantitative","axis":null,"scale":{"domain":[0,4.878],"nice":false}},"x2":{"datum":1},"y":{"field":"lo","type":"quantitative","scale":{"domain":[-0.5898,0.8509],"nice":false},"axis":{"orient":"right","offset":-47.7,"values":[-0.4,-0.3,-0.2,-0.1,0,0.1,0.2,0.3,0.4,0.5,0.6,0.7],"tickCount":12,"format":".1~f","grid":false,"labelFontSize":12,"labelPadding":4}},"y2":{"field":"hi"},"color":{"field":"m","type":"quantitative","legend":null,"scale":{"type":"threshold","domain":[-0.4,-0.3,-0.2,-0.1,0,0.1,0.2,0.3,0.4,0.5,0.6,0.7],"range":["#ab2079","#86277f","#3a54a4","#007fbf","#0091bb","#00959b","#009a4e","#adc161","#e9d053","#e6b047","#ee9040","#e31f26","#cf1f57"]}}}},
{"data":{"name":"ta"},"mark":{"type":"point","filled":true,"opacity":1,"color":"#cf1f57","size":151,"shape":"M-1,2.25L1,2.25L0,-2.25Z"},"transform":[{"filter":"datum.t>0"}],"encoding":{"x":{"datum":0.5,"type":"quantitative"},"y":{"field":"t","type":"quantitative"}}},
{"data":{"name":"ta"},"mark":{"type":"point","filled":true,"opacity":1,"color":"#ab2079","size":151,"shape":"M-1,-3.07L1,-3.07L0,3.07Z"},"transform":[{"filter":"datum.t<0"}],"encoding":{"x":{"datum":0.5,"type":"quantitative"},"y":{"field":"t","type":"quantitative"}}}]},
{"width":403.7,"height":406.7,"title":{"text":"(b)","dx":-32.5,"offset":18.3},"layer":[
{"data":{"name":"b"},"mark":{"type":"rect","width":18.8,"height":21.9,"clip":true},"encoding":{"x":{"field":"x","type":"quantitative","scale":{"domain":[64,42],"nice":false},"axis":{"values":[64,62,60,58,56,54,52,50,48,46,44,42],"tickCount":12,"labelExpr":"datum.value+'W'","labelOverlap":false}},"y":{"field":"y","type":"quantitative","scale":{"domain":[35,15.97],"nice":false},"axis":{"values":[16,18,20,22,24,26,28,30,32,34],"tickCount":10,"labelExpr":"datum.value+'S'"}},"color":{"field":"v","type":"quantitative","legend":null,"scale":{"type":"threshold","domain":[-0.4,-0.3,-0.2,-0.1,0,0.1,0.2,0.3,0.4,0.5,0.6,0.7],"range":["#ab2079","#86277f","#3a54a4","#007fbf","#0091bb","#00959b","#009a4e","#adc161","#e9d053","#e6b047","#ee9040","#e31f26","#cf1f57"]}}}},
{"data":{"name":"m"},"transform":[{"window":[{"op":"row_number","as":"i"}]}],"mark":{"type":"line","color":"#222","clip":true},"encoding":{"x":{"field":"x","type":"quantitative"},"y":{"field":"y","type":"quantitative"},"detail":{"field":"s"},"order":{"field":"i","type":"quantitative"},"strokeWidth":{"condition":{"test":"datum.s>=20","value":1.4},"value":0.8}}}]}
],"spacing":44},
{"resolve":{"scale":{"color":"independent"}},"align":"none","hconcat":[
{"width":403.7,"height":396.7,"title":{"text":"(c)","dx":-34.3,"offset":19.2},"layer":[
{"data":{"name":"c"},"mark":{"type":"rect","width":18.8,"height":21.4,"clip":true},"encoding":{"x":{"field":"x","type":"quantitative","scale":{"domain":[64,42],"nice":false},"axis":{"values":[64,62,60,58,56,54,52,50,48,46,44,42],"tickCount":12,"labelExpr":"datum.value+'W'","labelOverlap":false}},"y":{"field":"y","type":"quantitative","scale":{"domain":[35,15.97],"nice":false},"axis":{"values":[16,18,20,22,24,26,28,30,32,34],"tickCount":10,"labelExpr":"datum.value+'S'"}},"color":{"field":"v","type":"quantitative","legend":null,"scale":{"type":"threshold","domain":[-0.6,-0.5,-0.4,-0.3,-0.2,-0.1,0,0.1,0.2],"range":["#ab2079","#86277f","#3a54a4","#0091bb","#00959b","#adc161","#e9d053","#ee9040","#e31f26","#cf1f57"]}}}},
{"data":{"name":"m"},"transform":[{"window":[{"op":"row_number","as":"i"}]}],"mark":{"type":"line","color":"#222","clip":true},"encoding":{"x":{"field":"x","type":"quantitative"},"y":{"field":"y","type":"quantitative"},"detail":{"field":"s"},"order":{"field":"i","type":"quantitative"},"strokeWidth":{"condition":{"test":"datum.s>=20","value":1.4},"value":0.8}}}]},
{"width":51.7,"height":400.3,"view":{"stroke":null},"layer":[
{"data":{"name":"kc"},"mark":{"type":"rect","stroke":"#333","strokeWidth":0.6},"encoding":{"x":{"datum":0,"type":"quantitative","axis":null,"scale":{"domain":[0,4.169],"nice":false}},"x2":{"datum":1},"y":{"field":"lo","type":"quantitative","scale":{"domain":[-0.9092,0.5004],"nice":false},"axis":{"orient":"right","offset":-39.3,"values":[-0.6,-0.5,-0.4,-0.3,-0.2,-0.1,0,0.1,0.2],"tickCount":9,"format":".1~f","grid":false,"labelFontSize":12,"labelPadding":4}},"y2":{"field":"hi"},"color":{"field":"m","type":"quantitative","legend":null,"scale":{"type":"threshold","domain":[-0.6,-0.5,-0.4,-0.3,-0.2,-0.1,0,0.1,0.2],"range":["#ab2079","#86277f","#3a54a4","#0091bb","#00959b","#adc161","#e9d053","#ee9040","#e31f26","#cf1f57"]}}}},
{"data":{"name":"tc"},"mark":{"type":"point","filled":true,"opacity":1,"color":"#cf1f57","size":154,"shape":"M-1,2L1,2L0,-2Z"},"transform":[{"filter":"datum.t>0"}],"encoding":{"x":{"datum":0.5,"type":"quantitative"},"y":{"field":"t","type":"quantitative"}}},
{"data":{"name":"tc"},"mark":{"type":"point","filled":true,"opacity":1,"color":"#ab2079","size":154,"shape":"M-1,-2.25L1,-2.25L0,2.25Z"},"transform":[{"filter":"datum.t<0"}],"encoding":{"x":{"datum":0.5,"type":"quantitative"},"y":{"field":"t","type":"quantitative"}}}]},
{"width":403,"height":406.4,"title":{"text":"(d)","dx":-40.3,"offset":19.2},"layer":[
{"data":{"name":"d"},"mark":{"type":"rect","width":18.8,"height":21.9,"clip":true},"encoding":{"x":{"field":"x","type":"quantitative","scale":{"domain":[64,42],"nice":false},"axis":{"values":[64,62,60,58,56,54,52,50,48,46,44,42],"tickCount":12,"labelExpr":"datum.value+'W'","labelOverlap":false}},"y":{"field":"y","type":"quantitative","scale":{"domain":[35,16],"nice":false},"axis":{"values":[16,18,20,22,24,26,28,30,32,34],"tickCount":10,"labelExpr":"datum.value+'S'"}},"color":{"field":"v","type":"quantitative","legend":null,"scale":{"type":"threshold","domain":[-0.4,-0.3,-0.2,-0.1,0,0.1,0.2,0.3,0.4,0.5,0.6,0.7],"range":["#ab2079","#86277f","#3a54a4","#007fbf","#0091bb","#00959b","#009a4e","#adc161","#e9d053","#e6b047","#ee9040","#e31f26","#cf1f57"]}}}},
{"data":{"name":"m"},"transform":[{"window":[{"op":"row_number","as":"i"}]}],"mark":{"type":"line","color":"#222","clip":true},"encoding":{"x":{"field":"x","type":"quantitative"},"y":{"field":"y","type":"quantitative"},"detail":{"field":"s"},"order":{"field":"i","type":"quantitative"},"strokeWidth":{"condition":{"test":"datum.s>=20","value":1.4},"value":0.8}}}]}
],"spacing":47.6}
],"spacing":26.4}
